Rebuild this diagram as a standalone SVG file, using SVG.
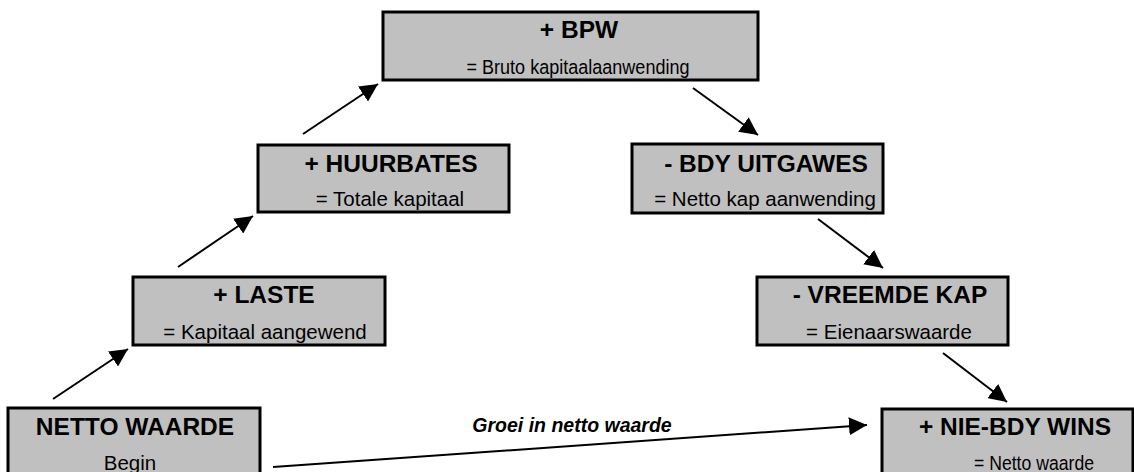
<svg xmlns="http://www.w3.org/2000/svg" width="1134" height="472" viewBox="0 0 1134 472">
<style>
.box{fill:#c0c0c0;stroke:#000;stroke-width:3}
.t{font-family:"Liberation Sans",Arial,sans-serif;font-weight:bold;font-size:24.5px;text-anchor:middle;fill:#000}
.s{font-family:"Liberation Sans",Arial,sans-serif;font-size:20.5px;text-anchor:middle;fill:#000}
.lbl{font-family:"Liberation Sans",Arial,sans-serif;font-weight:bold;font-style:italic;font-size:19.5px;text-anchor:middle;fill:#000}
.c{stroke:#000;stroke-width:2;fill:none;marker-end:url(#ah)}
</style>
<defs>
<marker id="ah" viewBox="0 0 18 18" refX="18" refY="9" markerWidth="18" markerHeight="18" markerUnits="userSpaceOnUse" orient="auto">
<path d="M0,0 L18,9 L0,18 z" fill="#000"/>
</marker>
</defs>
<rect width="1134" height="472" fill="#fff"/>
<g id="connectors">
<line class="c" x1="53" y1="399" x2="128" y2="349"/>
<line class="c" x1="178" y1="267" x2="253" y2="216"/>
<line class="c" x1="303" y1="134" x2="378" y2="84"/>
<line class="c" x1="693" y1="88" x2="758" y2="135"/>
<line class="c" x1="818" y1="219" x2="883" y2="268"/>
<line class="c" x1="943" y1="353" x2="1007" y2="402"/>
<line class="c" x1="273" y1="467" x2="867" y2="425"/>
<text class="lbl" x="572" y="432">Groei in netto waarde</text>
</g>
<g id="bpw">
<rect class="box" x="383" y="12" width="375" height="68"/>
<text class="t" x="579" y="38">+ BPW</text>
<text class="s" x="578" y="74" textLength="223" lengthAdjust="spacingAndGlyphs">= Bruto kapitaalaanwending</text>
</g>
<g id="huurbates">
<rect class="box" x="258" y="145" width="251" height="67"/>
<text class="t" x="391" y="172">+ HUURBATES</text>
<text class="s" x="390" y="206">= Totale kapitaal</text>
</g>
<g id="laste">
<rect class="box" x="133" y="277" width="252" height="68"/>
<text class="t" x="264" y="303">+ LASTE</text>
<text class="s" x="265" y="339">= Kapitaal aangewend</text>
</g>
<g id="netto-waarde">
<rect class="box" x="8" y="408" width="252" height="70"/>
<text class="t" x="135" y="435">NETTO WAARDE</text>
<text class="s" x="130" y="470">Begin</text>
</g>
<g id="bdy-uitgawes">
<rect class="box" x="632" y="144" width="251" height="69"/>
<text class="t" x="766" y="172">- BDY UITGAWES</text>
<text class="s" x="765" y="206">= Netto kap aanwending</text>
</g>
<g id="vreemde-kap">
<rect class="box" x="757" y="277" width="251" height="68"/>
<text class="t" x="890" y="303">- VREEMDE KAP</text>
<text class="s" x="889" y="339">= Eienaarswaarde</text>
</g>
<g id="nie-bdy-wins">
<rect class="box" x="882" y="409" width="251" height="70"/>
<text class="t" x="1015" y="435">+ NIE-BDY WINS</text>
<text class="s" x="1034" y="470" textLength="120" lengthAdjust="spacingAndGlyphs">= Netto waarde</text>
</g>
</svg>
